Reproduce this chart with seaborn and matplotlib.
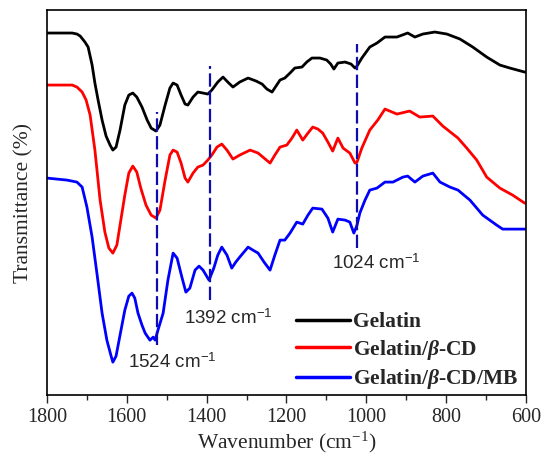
import numpy as np
import pandas as pd
import matplotlib
matplotlib.use('Agg')
import matplotlib.pyplot as plt
import seaborn as sns
from matplotlib.ticker import MultipleLocator

# 波数 / 透过率(任意单位)
wn_gel = [1800, 1767, 1737, 1725, 1717, 1705, 1697, 1687, 1680, 1672, 1662, 1652, 1642, 1635, 1627,
          1617, 1605, 1595, 1585, 1575, 1562, 1549, 1539, 1527, 1517, 1504, 1492, 1484, 1474, 1464,
          1454, 1447, 1434, 1422, 1409, 1397, 1387, 1372, 1359, 1347, 1334, 1317, 1296, 1276, 1261,
          1249, 1236, 1226, 1216, 1204, 1191, 1179, 1161, 1149, 1136, 1116, 1099, 1089, 1081, 1071,
          1053, 1038, 1028, 1023, 1011, 991, 973, 953, 923, 896, 878, 858, 828, 798, 765,
          733, 698, 665, 640, 603, 600]
t_gel = [362, 362, 362, 361, 359, 353, 348, 330, 312, 295, 275, 259, 250, 245, 248,
         265, 290, 300, 302, 298, 288, 275, 267, 264, 270, 290, 307, 312, 310, 300,
         291, 290, 298, 303, 302, 301, 305, 313, 318, 313, 308, 313, 317, 314, 311,
         306, 303, 309, 315, 317, 322, 327, 328, 333, 337, 337, 335, 331, 326, 332,
         333, 331, 327, 329, 337, 348, 352, 358, 358, 362, 358, 361, 363, 361, 356,
         348, 338, 330, 327, 323, 323]

wn_cd = [1800, 1737, 1725, 1712, 1702, 1692, 1680, 1667, 1655, 1645, 1635, 1625, 1615, 1605, 1595,
         1585, 1575, 1565, 1552, 1539, 1527, 1517, 1504, 1492, 1484, 1474, 1464, 1454, 1447, 1434,
         1422, 1409, 1397, 1387, 1374, 1362, 1349, 1334, 1317, 1291, 1271, 1256, 1241, 1229, 1216,
         1199, 1186, 1174, 1159, 1146, 1134, 1121, 1109, 1096, 1084, 1071, 1058, 1041, 1028, 1023,
         1011, 991, 971, 953, 923, 891, 866, 833, 808, 770, 748, 723, 698, 665, 633,
         603, 600]
t_cd = [310, 310, 308, 303, 295, 280, 245, 195, 163, 147, 142, 150, 175, 200, 222,
        229, 223, 207, 190, 180, 177, 185, 215, 240, 245, 243, 232, 217, 213, 222,
        228, 230, 235, 240, 248, 251, 245, 236, 240, 245, 242, 237, 232, 240, 248,
        250, 257, 265, 255, 262, 268, 266, 262, 253, 244, 257, 247, 242, 232, 233,
        247, 265, 275, 286, 281, 284, 278, 279, 269, 257, 247, 235, 218, 207, 200,
        192, 192]

wn_mb = [1800, 1750, 1725, 1712, 1700, 1687, 1675, 1662, 1650, 1640, 1635, 1627, 1617, 1605, 1595,
         1587, 1580, 1572, 1562, 1554, 1542, 1534, 1529, 1522, 1509, 1497, 1484, 1474, 1462, 1452,
         1442, 1429, 1419, 1409, 1394, 1382, 1372, 1362, 1349, 1337, 1327, 1317, 1296, 1284, 1271,
         1256, 1241, 1229, 1216, 1204, 1191, 1174, 1159, 1146, 1134, 1111, 1096, 1084, 1071, 1053,
         1041, 1031, 1023, 1016, 1003, 991, 973, 953, 933, 908, 896, 878, 858, 833, 815,
         790, 770, 740, 708, 673, 658, 640, 603, 600]
t_mb = [217, 215, 213, 208, 188, 158, 122, 82, 55, 40, 33, 39, 60, 85, 99,
        102, 97, 82, 70, 62, 55, 58, 55, 65, 82, 115, 142, 137, 118, 103,
        107, 125, 129, 125, 115, 127, 140, 148, 140, 127, 133, 138, 148, 145, 142,
        133, 125, 140, 155, 155, 162, 173, 171, 180, 187, 186, 177, 163, 176, 175,
        173, 162, 170, 182, 195, 205, 207, 213, 213, 218, 219, 213, 219, 222, 213,
        208, 205, 195, 180, 170, 166, 166, 166, 166]

names = ['Gelatin', r'Gelatin/$\beta$-CD', r'Gelatin/$\beta$-CD/MB']
colors = ['black', 'red', 'blue']

# 特征峰位置及虚线范围
peaks = [1524, 1392, 1024]
peak_lo = [50, 95, 147]
peak_hi = [283, 329, 351]
peak_lab_x = [1487, 1345, 975]
peak_lab_y = [33, 77, 132]

df = pd.concat([
    pd.DataFrame({'wn': wn_gel, 't': t_gel, 'sample': names[0]}),
    pd.DataFrame({'wn': wn_cd, 't': t_cd, 'sample': names[1]}),
    pd.DataFrame({'wn': wn_mb, 't': t_mb, 'sample': names[2]}),
])

sns.set_style('ticks')
plt.rcParams['font.family'] = ['Liberation Serif', 'DejaVu Serif']
plt.rcParams['mathtext.fontset'] = 'custom'
plt.rcParams['mathtext.rm'] = 'Liberation Serif'
plt.rcParams['mathtext.it'] = 'Liberation Serif:italic:bold'
plt.rcParams['mathtext.bf'] = 'Liberation Serif:bold'
plt.rcParams['mathtext.sf'] = 'Liberation Sans'

fig = plt.figure(figsize=(5.5, 4.66), dpi=100)
ax = fig.add_axes([0.0855, 0.152, 0.8705, 0.8265])

sns.lineplot(data=df, x='wn', y='t', hue='sample', palette=colors, linewidth=2,
             estimator=None, sort=False, ax=ax)

for p, lo, hi in zip(peaks, peak_lo, peak_hi):
    ax.plot([p, p], [lo, hi], color='#0c0cb0', lw=1.6, dashes=(6, 2))
for p, lx, ly in zip(peaks, peak_lab_x, peak_lab_y):
    ax.text(lx, ly, str(p) + r' cm$^{\mathsf{-1}}$', family=['Liberation Sans', 'DejaVu Sans'],
            fontsize=13.5, ha='center', va='center')

ax.set_xlim(1800, 600)
ax.set_ylim(0, 385)
ax.xaxis.set_major_locator(MultipleLocator(200))
ax.xaxis.set_minor_locator(MultipleLocator(100))
ax.tick_params(axis='x', which='major', direction='out', length=6, width=1, labelsize=14.5, top=False)
ax.tick_params(axis='x', which='minor', direction='out', length=3.5, width=1, top=False)
ax.set_yticks([])
for s in ax.spines.values():
    s.set_visible(True)
    s.set_linewidth(1.2)
    s.set_color('black')
ax.set_xlabel(r'Wavenumber (cm$^{-1}$)', fontsize=15.5, labelpad=2)
ax.set_ylabel('Transmittance (%)', fontsize=15.5, labelpad=10)

leg = ax.legend(loc='lower left', bbox_to_anchor=(0.48, -0.04), frameon=False,
                prop={'family': 'Liberation Serif', 'weight': 'bold', 'size': 15.5},
                handlelength=2.5, handletextpad=0.15, labelspacing=0.25)
for h in leg.get_lines():
    h.set_linewidth(2.5)

fig.savefig('out.png', dpi=100)
